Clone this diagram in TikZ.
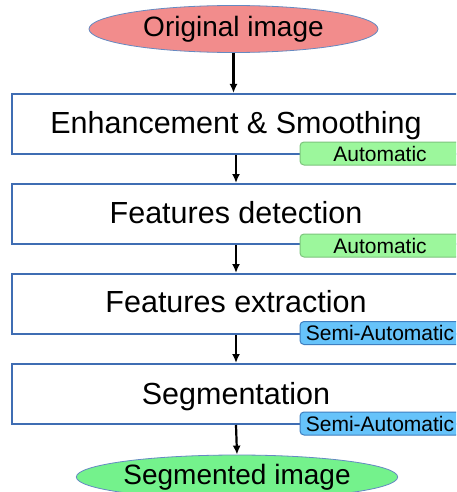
\documentclass[tikz,border=0pt]{standalone}
\usepackage{fontspec}
\setmainfont{Liberation Sans}
\usetikzlibrary{shapes.geometric,arrows.meta}
\definecolor{boxblue}{HTML}{3F6DB3}
\definecolor{ellred}{HTML}{F28C8C}
\definecolor{ellgreen}{HTML}{74F28C}
\definecolor{taggreen}{HTML}{9CF79C}
\definecolor{taggreenb}{HTML}{7CC47C}
\definecolor{tagblue}{HTML}{66C3FA}
\definecolor{tagblueb}{HTML}{3F7FC0}
\tikzset{
  stepbox/.style={draw=boxblue, line width=2pt, fill=white, rectangle, anchor=north west,
    minimum width=451pt, minimum height=60pt, inner sep=0pt},
  boxtext/.style={font=\fontsize{30.5}{36}\selectfont, inner sep=0pt, anchor=base},
  ell/.style={ellipse, draw=boxblue!80, line width=0.8pt, minimum width=289pt, minimum height=47pt,
    inner sep=0pt, font=\fontsize{28}{33}\selectfont},
  tag/.style={rounded corners=4pt, line width=1pt, minimum width=160pt, minimum height=23pt,
    inner sep=0pt, font=\fontsize{21}{25}\selectfont},
  autotag/.style={tag, draw=taggreenb, fill=taggreen},
  semitag/.style={tag, draw=tagblueb, fill=tagblue},
  arr/.style={line width=2.2pt, -{Latex[length=9pt,width=8pt]}},
}
\begin{document}
\begin{tikzpicture}[x=1pt,y=-1pt]
\useasboundingbox (0,0) rectangle (456,492);
\clip (0,0) rectangle (456,492);
\fill[white] (0,0) rectangle (456,492);

\node[ell, fill=ellred] (e1) at (233.5,29) {Original image};

\node[stepbox] (b1) at (11,93) {};
\node[boxtext] (t1) at (236,133.5) {Enhancement \& Smoothing};
\node[stepbox] (b2) at (11,183) {};
\node[boxtext] (t2) at (236,223.3) {Features detection};
\node[stepbox] (b3) at (11,273) {};
\node[boxtext] (t3) at (236,312.5) {Features extraction};
\node[stepbox] (b4) at (11,363) {};
\node[boxtext] (t4) at (236,404.5) {Segmentation};

\node[autotag] (g1) at (380,153.5) {Automatic};
\node[autotag] (g2) at (380,245.5) {Automatic};
\node[semitag] (g3) at (380,333) {Semi-Automatic};
\node[semitag] (g4) at (380,423.5) {Semi-Automatic};

\node[ell, fill=ellgreen, minimum width=288pt, minimum height=44pt] (e2) at (237,477) {Segmented image};

\draw[arr] (e1.south) -- (e1.south |- b1.north);
\draw[arr] (b1.south -| t1) -- (b2.north -| t1);
\draw[arr] (b2.south -| t2) -- (b3.north -| t2);
\draw[arr] (b3.south -| t3) -- (b4.north -| t3);
\draw[arr] (b4.south -| t4) -- (e2.north);
\end{tikzpicture}
\end{document}
